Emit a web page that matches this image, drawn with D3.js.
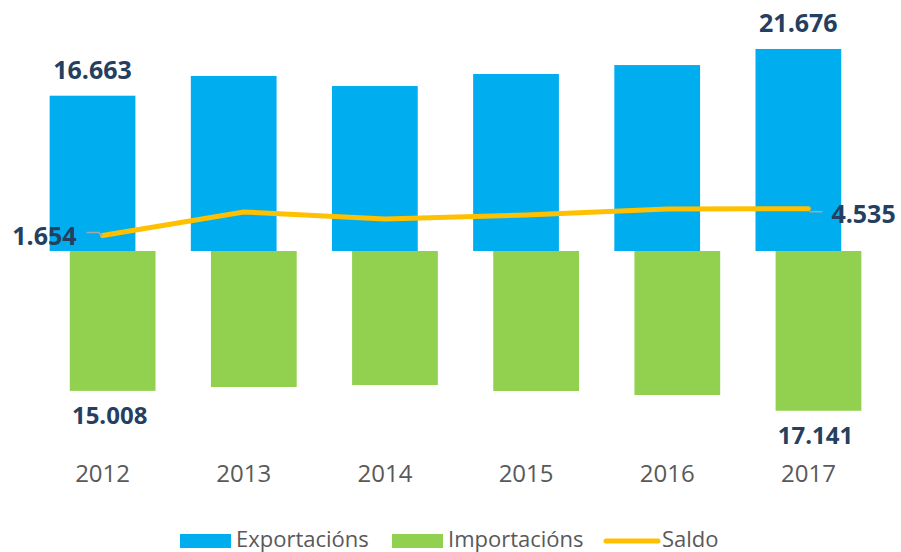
<html>
<script src="https://d3js.org/d3.v7.min.js"></script>
<style>
    body { margin: 0; background: #fff; }
    text { font-family: "Open Sans", sans-serif; }
</style>

<body>
    <script>
        var years = ["2012", "2013", "2014", "2015", "2016", "2017"];
        var exportacions = [16663, 18780, 17700, 18990, 19950, 21676];
        var importacions = [15008, 14590, 14380, 15020, 15450, 17141];
        var saldo = [1654, 4190, 3440, 3870, 4500, 4535];
        var labelYears = ["2012", "2017"];

        var width = 901;
        var height = 552;
        var svg = d3.select("body").append("svg")
            .attr("width", width)
            .attr("height", height);

        var navy = "#243f60";
        var grey = "#595959";

        var fmt = d3.formatLocale({ decimal: ",", thousands: ".", grouping: [3], currency: ["", "€"] }).format(",d");

        var x = d3.scaleBand().domain(years).range([32, 879]).paddingInner(0.25).paddingOuter(0.125);
        var y = d3.scaleLinear().domain([-20000, 25000]).range([437.4, 18]);
        var bw = x.bandwidth() * 0.81;
        var off = x.bandwidth() - bw;

        var rows = years.map((yr, i) => ({ year: yr, exp: exportacions[i], imp: importacions[i], sal: saldo[i] }));

        // exports up
        svg.append("g").selectAll("rect").data(rows).enter().append("rect")
            .attr("x", d => x(d.year))
            .attr("width", bw)
            .attr("y", d => y(d.exp))
            .attr("height", d => y(0) - y(d.exp))
            .attr("fill", "#00aeef");

        // imports down
        svg.append("g").selectAll("rect").data(rows).enter().append("rect")
            .attr("x", d => x(d.year) + off)
            .attr("width", bw)
            .attr("y", y(0))
            .attr("height", d => y(-d.imp) - y(0))
            .attr("fill", "#92d050");

        // saldo line
        var cx = d => x(d.year) + x.bandwidth() / 2;
        svg.append("path")
            .datum(rows)
            .attr("fill", "none")
            .attr("stroke", "#ffc000")
            .attr("stroke-width", 5)
            .attr("stroke-linecap", "round")
            .attr("d", d3.line().x(cx).y(d => y(d.sal)));

        var lab = rows.filter(d => labelYears.includes(d.year));

        svg.append("g").selectAll("text").data(lab).enter().append("text")
            .attr("x", d => x(d.year) + bw / 2)
            .attr("y", d => y(d.exp) - 17)
            .attr("text-anchor", "middle")
            .attr("font-size", 25).attr("font-weight", "bold").attr("fill", navy)
            .text(d => fmt(d.exp));

        svg.append("g").selectAll("text").data(lab).enter().append("text")
            .attr("x", d => x(d.year) + off + bw / 2 - 3)
            .attr("y", d => y(-d.imp) + 33)
            .attr("text-anchor", "middle")
            .attr("font-size", 24).attr("font-weight", "bold").attr("fill", navy)
            .text(d => fmt(d.imp));

        // saldo labels with leaders
        var first = rows[0], last = rows[rows.length - 1];
        svg.append("path")
            .attr("d", `M${cx(first) - 16},${y(first.sal) - 3}H${cx(first) - 4}L${cx(first)},${y(first.sal)}`)
            .attr("fill", "none").attr("stroke", "#a6a6a6").attr("stroke-width", 1.5);
        svg.append("text")
            .attr("x", cx(first) - 26).attr("y", y(first.sal) + 9)
            .attr("text-anchor", "end")
            .attr("font-size", 25).attr("font-weight", "bold").attr("fill", navy)
            .text(fmt(first.sal));
        svg.append("path")
            .attr("d", `M${cx(last) + 1},${y(last.sal) + 3}H${cx(last) + 14}`)
            .attr("fill", "none").attr("stroke", "#a6a6a6").attr("stroke-width", 1.5);
        svg.append("text")
            .attr("x", cx(last) + 23).attr("y", y(last.sal) + 14)
            .attr("text-anchor", "start")
            .attr("font-size", 25).attr("font-weight", "bold").attr("fill", navy)
            .text(fmt(last.sal));

        // year labels
        var xAxis = svg.append("g")
            .attr("transform", "translate(0,482)")
            .call(d3.axisBottom(x).tickSize(0).tickPadding(0));
        xAxis.select(".domain").remove();
        xAxis.selectAll("text")
            .attr("dy", 0)
            .attr("font-size", 24)
            .attr("font-family", "'Open Sans', sans-serif")
            .attr("fill", grey);

        // legend
        var legend = [
            { name: "Exportacións", color: "#00aeef", type: "rect", x: 180 },
            { name: "Importacións", color: "#92d050", type: "rect", x: 392 },
            { name: "Saldo", color: "#ffc000", type: "line", x: 604 }
        ];
        var lg = svg.append("g").selectAll("g").data(legend).enter().append("g")
            .attr("transform", d => `translate(${d.x},541)`);
        lg.filter(d => d.type == "rect").append("rect")
            .attr("x", 0).attr("y", -7).attr("width", 51).attr("height", 14)
            .attr("fill", d => d.color);
        lg.filter(d => d.type == "line").append("line")
            .attr("x1", 2).attr("x2", 54).attr("y1", 0).attr("y2", 0)
            .attr("stroke", d => d.color).attr("stroke-width", 5).attr("stroke-linecap", "round");
        lg.append("text")
            .attr("x", d => d.type == "rect" ? 56 : 58)
            .attr("y", 6)
            .attr("font-size", 22).attr("fill", grey)
            .text(d => d.name);
    </script>
</body>

</html>
